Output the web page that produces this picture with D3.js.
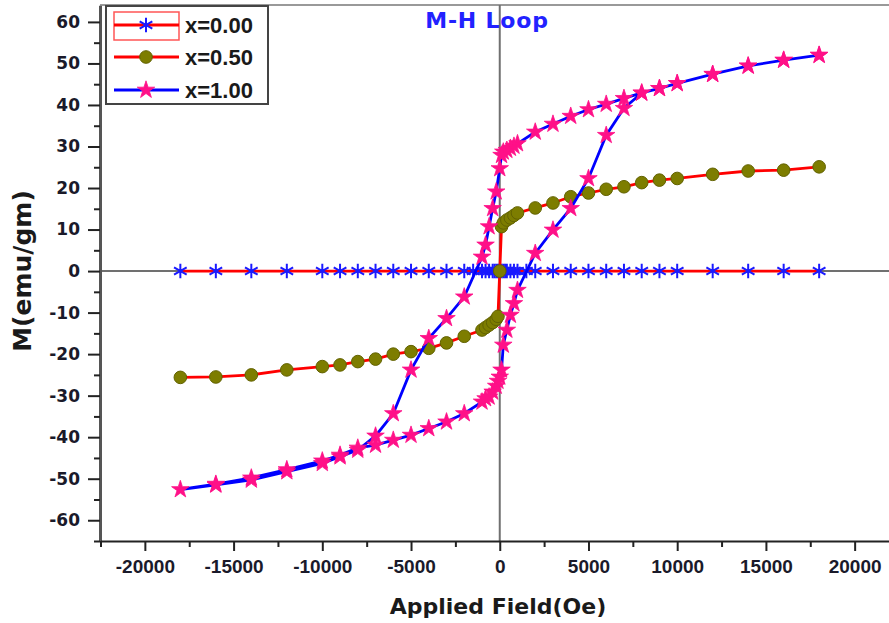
<!DOCTYPE html>
<html>
<head>
<meta charset="utf-8">
<script src="https://cdn.jsdelivr.net/npm/d3@7"></script>
<style>
  body { margin: 0; background: #fff; }
  svg { display: block; }
</style>
</head>
<body>
<svg id="chart" width="889" height="623"></svg>
<script>
// ---- Magnetisation data (H in Oe, M in emu/gm) ----
const seriesLabels = ["x=0.00", "x=0.50", "x=1.00"];

// x = 0.00 : no measurable magnetisation
const h000 = [-18000, -16000, -14000, -12000, -10000, -9000, -8000, -7000, -6000, -5000, -4000, -3000, -2000,
  -1500, -1000, -800, -600, -400, -300, -200, -100, 0, 100, 200, 300, 400, 600, 800, 1000, 1500,
  2000, 3000, 4000, 5000, 6000, 7000, 8000, 9000, 10000, 12000, 14000, 16000, 18000];
const m000 = [0, 0, 0, 0, 0, 0, 0, 0, 0, 0, 0, 0, 0,
  0, 0, 0, 0, 0, 0, 0, 0, 0, 0, 0, 0, 0, 0, 0, 0, 0,
  0, 0, 0, 0, 0, 0, 0, 0, 0, 0, 0, 0, 0];

// x = 0.50
const h050 = [-18000, -16000, -14000, -12000, -10000, -9000, -8000, -7000, -6000, -5000, -4000, -3000, -2000,
  -1000, -800, -600, -400, -200, -100, 0, 100, 200, 400, 600, 800, 1000,
  2000, 3000, 4000, 5000, 6000, 7000, 8000, 9000, 10000, 12000, 14000, 16000, 18000];
const m050 = [-25.6, -25.5, -25.0, -23.8, -23.0, -22.6, -21.8, -21.2, -20.0, -19.4, -18.6, -17.3, -15.7,
  -14.2, -13.6, -13.0, -12.4, -11.6, -10.9, 0, 10.7, 11.6, 12.3, 12.8, 13.4, 14.0,
  15.2, 16.4, 17.9, 18.8, 19.7, 20.3, 21.3, 21.9, 22.3, 23.3, 24.1, 24.3, 25.1];

// x = 1.00 : descending branch (+H -> -H)
const hDown = [18000, 16000, 14000, 12000, 10000, 9000, 8000, 7000, 6000, 5000, 4000, 3000, 2000,
  1000, 800, 600, 400, 200, 100, 0, -200, -400, -600, -800, -1000,
  -2000, -3000, -4000, -5000, -6000, -7000, -8000, -9000, -10000, -12000, -14000, -16000, -18000];
const mDown = [52.0, 50.8, 49.4, 47.4, 45.2, 44.0, 42.9, 41.6, 40.2, 38.9, 37.3, 35.4, 33.5,
  30.7, 30.1, 29.6, 29.1, 28.7, 27.9, 24.7, 19.1, 15.1, 10.7, 6.3, 3.4,
  -6.2, -11.4, -16.2, -23.8, -34.3, -39.7, -43.1, -44.7, -46.3, -48.3, -50.3, -51.5, -52.6];

// x = 1.00 : ascending branch (-H -> +H)
const hUp = [-16000, -14000, -12000, -10000, -9000, -8000, -7000, -6000, -5000, -4000, -3000, -2000,
  -1000, -800, -600, -400, -200, -100, 0, 100, 200, 400, 600, 800, 1000,
  2000, 3000, 4000, 5000, 6000, 7000, 8000, 9000, 10000, 12000, 14000, 16000, 18000];
const mUp = [-51.3, -49.8, -47.8, -45.7, -44.3, -42.6, -41.9, -40.7, -39.5, -37.9, -36.3, -34.3,
  -31.5, -30.7, -30.3, -29.1, -27.7, -26.5, -25.5, -23.8, -17.8, -14.2, -10.6, -7.8, -4.6,
  4.3, 9.9, 15.1, 22.3, 32.7, 39.2, 42.9, 44.0, 45.2, 47.4, 49.4, 50.8, 52.0];

// Axis ticks
const xMajorTicks = [-20000, -15000, -10000, -5000, 0, 5000, 10000, 15000, 20000];
const xMinorTicks = [-22500, -17500, -12500, -7500, -2500, 2500, 7500, 12500, 17500];
const yMajorTicks = [-60, -50, -40, -30, -20, -10, 0, 10, 20, 30, 40, 50, 60];
const yMinorTicks = [-65, -55, -45, -35, -25, -15, -5, 5, 15, 25, 35, 45, 55];

// ---- Drawing ----
const svg = d3.select("#chart");
const x = d3.scaleLinear().domain([-22500, 22500]).range([100.5, 899]);
const y = d3.scaleLinear().domain([-65, 64]).range([541, 5.3]);

const zip = (hs, ms) => hs.map((h, i) => [h, ms[i]]);
const d000 = zip(h000, m000);
const d050 = zip(h050, m050);
const dLoop = zip(hDown, mDown).concat(zip(hUp, mUp));

const lineGen = d3.line().x(d => x(d[0])).y(d => y(d[1]));
const plainNumber = d => String(d);   // ASCII hyphen for negatives

// top frame line
svg.append("line")
  .attr("x1", 100).attr("x2", 889).attr("y1", 5).attr("y2", 5)
  .attr("stroke", "#999").attr("stroke-width", 2);

// zero lines
svg.append("line")
  .attr("x1", x(0)).attr("x2", x(0)).attr("y1", 5).attr("y2", 541)
  .attr("stroke", "#707070").attr("stroke-width", 2);
svg.append("line")
  .attr("x1", 100).attr("x2", 889).attr("y1", y(0)).attr("y2", y(0))
  .attr("stroke", "#707070").attr("stroke-width", 2);

// axes
const tickFontY = "bold 17px 'DejaVu Sans', sans-serif";
const tickFontX = "bold 19px 'Liberation Sans', Arial, sans-serif";

const yAxis = svg.append("g").attr("transform", "translate(100,0)")
  .call(d3.axisLeft(y).tickValues(yMajorTicks).tickSize(12).tickPadding(8).tickSizeOuter(0)
    .tickFormat(plainNumber));
svg.append("g").attr("transform", "translate(100,0)")
  .call(d3.axisLeft(y).tickValues(yMinorTicks).tickSize(6).tickFormat("").tickSizeOuter(0))
  .select(".domain").remove();
yAxis.selectAll("text").style("font", tickFontY).attr("fill", "#1a1a2a");

const xAxis = svg.append("g").attr("transform", "translate(0,541)")
  .call(d3.axisBottom(x).tickValues(xMajorTicks).tickSize(10).tickPadding(9).tickSizeOuter(0)
    .tickFormat(plainNumber));
svg.append("g").attr("transform", "translate(0,541)")
  .call(d3.axisBottom(x).tickValues(xMinorTicks).tickSize(6).tickFormat("").tickSizeOuter(0))
  .select(".domain").remove();
xAxis.selectAll("text").style("font", tickFontX).attr("fill", "#1a1a2a");

svg.selectAll(".tick line").attr("stroke", "#222").attr("stroke-width", 2);
yAxis.select(".domain").attr("stroke", "#555").attr("stroke-width", 3);
xAxis.select(".domain").attr("stroke", "#222").attr("stroke-width", 2);

// axis titles
svg.append("text")
  .attr("transform", "translate(31,271) rotate(-90)")
  .attr("text-anchor", "middle")
  .style("font", "bold 25px 'DejaVu Sans', sans-serif")
  .attr("fill", "#1a1a1a")
  .text("M(emu/gm)");
svg.append("text")
  .attr("x", 498).attr("y", 614)
  .attr("text-anchor", "middle")
  .style("font", "bold 22px 'DejaVu Sans', sans-serif")
  .attr("fill", "#1a1a1a")
  .text("Applied Field(Oe)");

// title
svg.append("text")
  .attr("x", 487).attr("y", 28)
  .attr("text-anchor", "middle")
  .style("font", "bold 22px 'DejaVu Sans', sans-serif")
  .style("letter-spacing", "0.8px")
  .attr("fill", "#2222ff")
  .text("M-H Loop");

// symbols
const asterisk = d3.symbol().type(d3.symbolAsterisk).size(150);
const circle = d3.symbol().type(d3.symbolCircle).size(125);
const star = d3.symbol().type(d3.symbolStar).size(95);

function drawAsterisk(g, px, py) {
  g.append("path").attr("d", asterisk()).attr("transform", `translate(${px},${py})`)
    .attr("fill", "none").attr("stroke", "#1a1aff").attr("stroke-width", 2);
}
function drawCircle(g, px, py) {
  g.append("path").attr("d", circle()).attr("transform", `translate(${px},${py})`)
    .attr("fill", "#7d7d00").attr("stroke", "#626200").attr("stroke-width", 1);
}
function drawStar(g, px, py) {
  g.append("path").attr("d", star()).attr("transform", `translate(${px},${py})`)
    .attr("fill", "#ff1088").attr("stroke", "#ff1088").attr("stroke-width", 0.8);
}

// x = 0.00
const g0 = svg.append("g");
g0.append("path").datum(d000).attr("d", lineGen)
  .attr("fill", "none").attr("stroke", "#ff0000").attr("stroke-width", 2.8);
d000.forEach(d => drawAsterisk(g0, x(d[0]), y(d[1])));

// x = 0.50
const g1 = svg.append("g");
g1.append("path").datum(d050).attr("d", lineGen)
  .attr("fill", "none").attr("stroke", "#ff0000").attr("stroke-width", 2.8);
d050.forEach(d => drawCircle(g1, x(d[0]), y(d[1])));

// x = 1.00 hysteresis loop
const g2 = svg.append("g");
g2.append("path").datum(dLoop).attr("d", lineGen)
  .attr("fill", "none").attr("stroke", "#0000ff").attr("stroke-width", 2.8);
dLoop.forEach(d => drawStar(g2, x(d[0]), y(d[1])));

// legend
const lg = svg.append("g");
lg.append("rect").attr("x", 106).attr("y", 6).attr("width", 162).attr("height", 98)
  .attr("fill", "#fff").attr("stroke", "#444").attr("stroke-width", 2);
const rows = [25, 57, 90];
const lineColors = ["#ff0000", "#ff0000", "#0000ff"];
lg.append("rect").attr("x", 114).attr("y", 12).attr("width", 65).attr("height", 28)
  .attr("fill", "none").attr("stroke", "#ff5555").attr("stroke-width", 1.5);
seriesLabels.forEach((lab, i) => {
  lg.append("line").attr("x1", 114).attr("x2", 179).attr("y1", rows[i]).attr("y2", rows[i])
    .attr("stroke", lineColors[i]).attr("stroke-width", 2.8);
  if (i === 0) drawAsterisk(lg, 146, rows[i]);
  if (i === 1) drawCircle(lg, 146, rows[i]);
  if (i === 2) drawStar(lg, 146, rows[i]);
  lg.append("text").attr("x", 185).attr("y", rows[i] + 8)
    .style("font", "bold 22px 'Liberation Sans', Arial, sans-serif")
    .attr("fill", "#1a1a1a")
    .text(lab);
});
</script>
</body>
</html>
